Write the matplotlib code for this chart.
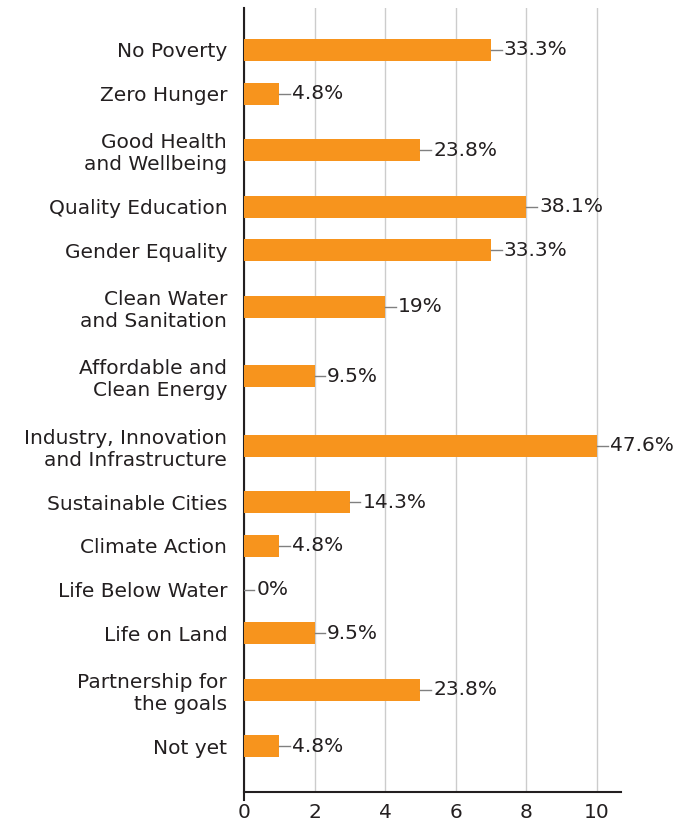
import matplotlib.pyplot as plt
import numpy as np

plt.rcParams['font.family'] = ['DejaVu Sans']

# DATA
goals = ['No Poverty', 'Zero Hunger', 'Good Health\nand Wellbeing', 'Quality Education',
         'Gender Equality', 'Clean Water\nand Sanitation', 'Affordable and\nClean Energy',
         'Industry, Innovation\nand Infrastructure', 'Sustainable Cities', 'Climate Action',
         'Life Below Water', 'Life on Land', 'Partnership for\nthe goals', 'Not yet']
counts = [7, 1, 5, 8, 7, 4, 2, 10, 3, 1, 0, 2, 5, 1]
pct_labels = ['33.3%', '4.8%', '23.8%', '38.1%', '33.3%', '19%', '9.5%',
              '47.6%', '14.3%', '4.8%', '0%', '9.5%', '23.8%', '4.8%']

# row positions: two-line labels get more room
nlines = [g.count('\n') + 1 for g in goals]
ypos = [0.0]
for i in range(1, len(goals)):
    ypos.append(ypos[-1] + 18 + 13 * (nlines[i - 1] + nlines[i]))
ypos = np.array(ypos)

fig = plt.figure(figsize=(6.87, 8.31), dpi=100)
ax = fig.add_axes([0.355, 0.047, 0.549, 0.943])

ax.barh(ypos, counts, height=22, color='#F7941D', zorder=3)

for y, v, lab in zip(ypos, counts, pct_labels):
    ax.plot([v, v + 0.3], [y, y], color='#808080', lw=1, zorder=3)
    ax.text(v + 0.36, y, lab, va='center', ha='left', fontsize=14.5,
            color='#231f20', zorder=4)

ax.set_yticks(ypos)
ax.set_yticklabels(goals, fontsize=14.5, color='#231f20', linespacing=1.2)
ax.set_ylim(ypos[-1] + 46, -42)
ax.set_xlim(0, 10.68)
ax.set_xticks([0, 2, 4, 6, 8, 10])
ax.tick_params(axis='x', length=0, labelsize=14.5, colors='#231f20', pad=8)
ax.tick_params(axis='y', length=0, pad=12)

ax.grid(axis='x', color='#cccccc', lw=1, zorder=0)
ax.set_axisbelow(True)
for s in ['top', 'right']:
    ax.spines[s].set_visible(False)
ax.spines['left'].set_color('#231f20')
ax.spines['left'].set_linewidth(1.5)
ax.spines['left'].set_bounds(ypos[-1] + 54, -42)
ax.spines['bottom'].set_color('#231f20')
ax.spines['bottom'].set_linewidth(1.5)

fig.savefig('out.png', dpi=100)
